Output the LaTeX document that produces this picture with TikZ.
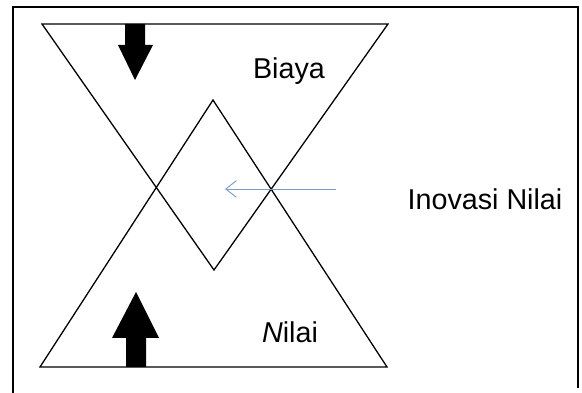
\documentclass[tikz,border=0pt]{standalone}
\usepackage{fontspec}
\setmainfont{Liberation Sans}
\usetikzlibrary{arrows.meta,calc,positioning}
\definecolor{pointerblue}{HTML}{7A9CC8}
\tikzset{
  frame/.style   = {line width=1.7pt, black},
  tri/.style     = {line width=1.1pt, black, line join=miter},
  blockarr/.style= {fill=black},
  pointer/.style = {-{Straight Barb[length=3.2mm,width=5mm]}, line width=0.8pt, pointerblue},
  lbl/.style     = {inner sep=0pt, anchor=base, font=\fontsize{24.5}{29}\selectfont},
}

\begin{document}
\begin{tikzpicture}[x=0.3mm,y=0.3mm]
  \useasboundingbox (0,0) rectangle (582,393);
  % outer frame (open at the bottom)
  \draw[frame] (13,0) -- (13,386) -- (578,386) -- (578,5);
  % the two triangles, their overlap gives the diamond
  \coordinate (tl) at (42,369);  \coordinate (tr) at (388,369);  \coordinate (tapex) at (214,123);
  \coordinate (bl) at (40,26);   \coordinate (br) at (387,26);   \coordinate (bapex) at (213,293);
  \draw[tri] (tl) -- (tr) -- (tapex) -- cycle;
  \draw[tri] (bl) -- (br) -- (bapex) -- cycle;
  % block arrows
  \fill[blockarr] (125,369) -- (145,369) -- (145,348) -- (153,348) -- (135,313)
                  -- (118,348) -- (125,348) -- cycle;
  \fill[blockarr] (126,26) -- (146,26) -- (146,55) -- (159,55) -- (136,101)
                  -- (112,55) -- (126,55) -- cycle;
  % labels
  \node[lbl] (biaya) at (289,314) {Biaya};
  \node[lbl] (nilai) at (290,50) {\textit{N}ilai};
  \node[lbl] (inovasi) at (485,183) {Inovasi Nilai};
  % pointer into the diamond
  \coordinate (ptrstart) at (336,204);
  \coordinate (ptrend) at (225,204);
  \draw[pointer] (ptrstart) -- (ptrend);
\end{tikzpicture}
\end{document}
